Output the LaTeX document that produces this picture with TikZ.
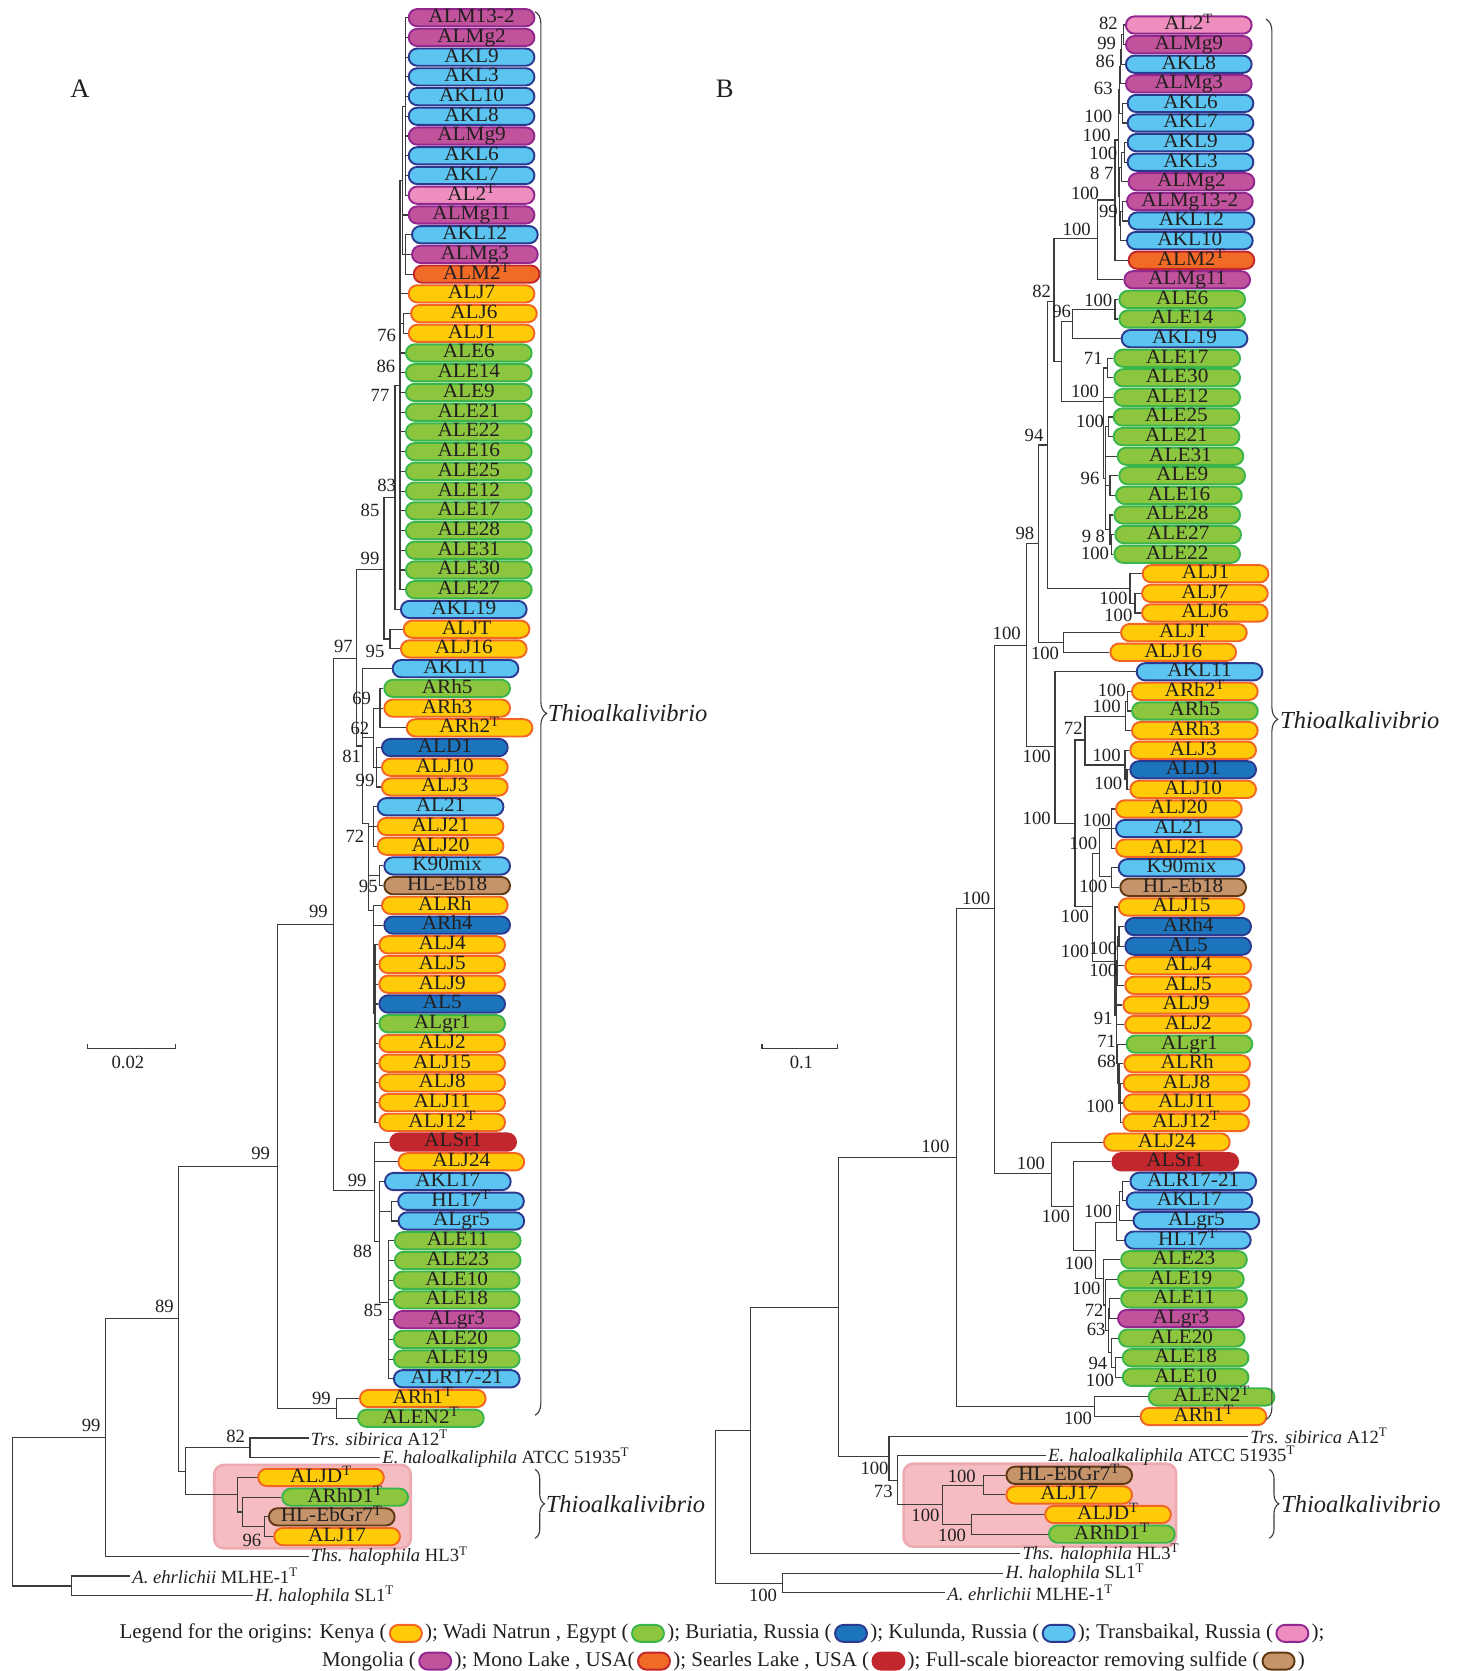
\documentclass[tikz,border=0pt]{standalone}
\usepackage{fontspec}
\setmainfont{Liberation Serif}
\newfontfamily\pillfam{Liberation Serif}[FakeStretch=1.05]
\usetikzlibrary{shapes.misc,decorations.pathreplacing}
\definecolor{keF}{HTML}{FFCB08}\definecolor{keD}{HTML}{F26522}
\definecolor{egF}{HTML}{8CC63F}\definecolor{egD}{HTML}{39B54A}
\definecolor{buF}{HTML}{1C75BC}\definecolor{buD}{HTML}{2B3990}
\definecolor{kuF}{HTML}{5BC4F0}\definecolor{kuD}{HTML}{2B3990}
\definecolor{trF}{HTML}{EE8EBE}\definecolor{trD}{HTML}{92278F}
\definecolor{moF}{HTML}{C1529C}\definecolor{moD}{HTML}{92278F}
\definecolor{mlF}{HTML}{F26B26}\definecolor{mlD}{HTML}{C1272D}
\definecolor{slF}{HTML}{C1272D}\definecolor{slD}{HTML}{C1272D}
\definecolor{bioF}{HTML}{C6946A}\definecolor{bioD}{HTML}{603913}
\definecolor{pinkbox}{HTML}{F5BDC1}\definecolor{pinkedge}{HTML}{EDAAB0}
\definecolor{treeln}{HTML}{3C3C3C}\definecolor{txt}{HTML}{231F20}
\newcommand\mypillf{\pillfam\fontsize{19}{19}\selectfont}
\newcommand\mybsf{\fontsize{17.5}{17.5}\selectfont}
\newcommand\myspf{\fontsize{17.5}{17.5}\selectfont}
\newcommand\mylegf{\fontsize{19.7}{19.7}\selectfont}
\newcommand\mygenf{\fontsize{23}{23}\selectfont\itshape}
\newcommand\supT{\textsuperscript{T}}
\newcommand\tipA[4]{\node[#2,anchor=west] (A#1) at (#3,{16.6+18.51*#1}) {#4};}
\newcommand\tipB[4]{\node[#2,anchor=west] (B#1) at (#3,{23.5+18.39*#1}) {#4};}
\newcommand\tedge[2]{\foreach \chld in {#2}{\draw[brl] (#1) |- (\chld);}}
\newcommand\bslab[3]{\node[bsl] (#1) at (#2) {#3};}
\begin{document}
\begin{tikzpicture}[x=1pt,y=-1pt,
 brl/.style={draw=treeln,line width=1.05pt},
 pill/.style={rounded rectangle,line width=1.8pt,minimum width=118pt,minimum height=16.2pt,inner sep=0pt,text height=12.5pt,text depth=3.3pt,font=\mypillf,text=txt},
 keP/.style={pill,fill=keF,draw=keD}, egP/.style={pill,fill=egF,draw=egD},
 buP/.style={pill,fill=buF,draw=buD}, kuP/.style={pill,fill=kuF,draw=kuD},
 trP/.style={pill,fill=trF,draw=trD}, moP/.style={pill,fill=moF,draw=moD},
 mlP/.style={pill,fill=mlF,draw=mlD}, slP/.style={pill,fill=slF,draw=slD},
 bioP/.style={pill,fill=bioF,draw=bioD},
 sptxt/.style={font=\myspf,inner xsep=2pt,inner ysep=0pt,text=txt},
 bsl/.style={font=\mybsf,inner sep=0pt,text=txt},
 genl/.style={font=\mygenf,inner sep=1pt,text=txt},
 legt/.style={font=\mylegf,inner xsep=2pt,inner ysep=0pt,text=txt},
 legi/.style={rounded rectangle,line width=1.8pt,minimum width=30pt,minimum height=16pt,inner sep=0pt}]
\useasboundingbox (0,0) rectangle (1370,1568);
% pink boxes
\draw[fill=pinkbox,draw=pinkedge,line width=2.5pt,rounded corners=9pt] (201,1374.6) rectangle (385.4,1452.8);
\draw[fill=pinkbox,draw=pinkedge,line width=2.5pt,rounded corners=9pt] (847.9,1373.5) rectangle (1103.5,1451.3);
% panel labels
\node[font=\fontsize{25}{25}\selectfont,text=txt] (pA) at (75,83) {A};
\node[font=\fontsize{25}{25}\selectfont,text=txt] (pB) at (680,83) {B};
%================ TREE A tips
\tipA{0}{moP}{382.6}{ALM13-2}
\tipA{1}{moP}{382.6}{ALMg2}
\tipA{2}{kuP}{382.6}{AKL9}
\tipA{3}{kuP}{382.6}{AKL3}
\tipA{4}{kuP}{382.6}{AKL10}
\tipA{5}{kuP}{382.6}{AKL8}
\tipA{6}{moP}{382.6}{ALMg9}
\tipA{7}{kuP}{382.6}{AKL6}
\tipA{8}{kuP}{382.6}{AKL7}
\tipA{9}{trP}{382.6}{AL2\supT}
\tipA{10}{moP}{382.6}{ALMg11}
\tipA{11}{kuP}{385.7}{AKL12}
\tipA{12}{moP}{385.7}{ALMg3}
\tipA{13}{mlP}{387.3}{ALM2\supT}
\tipA{14}{keP}{382.6}{ALJ7}
\tipA{15}{keP}{384.8}{ALJ6}
\tipA{16}{keP}{382.6}{ALJ1}
\tipA{17}{egP}{380}{ALE6}
\tipA{18}{egP}{380}{ALE14}
\tipA{19}{egP}{380}{ALE9}
\tipA{20}{egP}{380}{ALE21}
\tipA{21}{egP}{380}{ALE22}
\tipA{22}{egP}{380}{ALE16}
\tipA{23}{egP}{380}{ALE25}
\tipA{24}{egP}{380}{ALE12}
\tipA{25}{egP}{380}{ALE17}
\tipA{26}{egP}{380}{ALE28}
\tipA{27}{egP}{380}{ALE31}
\tipA{28}{egP}{380}{ALE30}
\tipA{29}{egP}{380}{ALE27}
\tipA{30}{kuP}{375.3}{AKL19}
\tipA{31}{keP}{377.9}{ALJT}
\tipA{32}{keP}{375.3}{ALJ16}
\tipA{33}{kuP}{367.5}{AKL11}
\tipA{34}{egP}{359.7}{ARh5}
\tipA{35}{keP}{359.7}{ARh3}
\tipA{36}{keP}{380.7}{ARh2\supT}
\tipA{37}{buP}{357.5}{ALD1}
\tipA{38}{keP}{357.5}{ALJ10}
\tipA{39}{keP}{357.5}{ALJ3}
\tipA{40}{kuP}{353.5}{AL21}
\tipA{41}{keP}{353.5}{ALJ21}
\tipA{42}{keP}{353.5}{ALJ20}
\tipA{43}{kuP}{359.7}{K90mix}
\tipA{44}{bioP}{359.7}{HL-Eb18}
\tipA{45}{keP}{357.5}{ALRh}
\tipA{46}{buP}{359.7}{ARh4}
\tipA{47}{keP}{355}{ALJ4}
\tipA{48}{keP}{355}{ALJ5}
\tipA{49}{keP}{355}{ALJ9}
\tipA{50}{buP}{355}{AL5}
\tipA{51}{egP}{355}{ALgr1}
\tipA{52}{keP}{355}{ALJ2}
\tipA{53}{keP}{355}{ALJ15}
\tipA{54}{keP}{355}{ALJ8}
\tipA{55}{keP}{355}{ALJ11}
\tipA{56}{keP}{355}{ALJ12\supT}
\tipA{57}{slP}{365.3}{ALSr1}
\tipA{58}{keP}{373}{ALJ24}
\tipA{59}{kuP}{360.3}{AKL17}
\tipA{60}{kuP}{372.7}{HL17\supT}
\tipA{61}{kuP}{373}{ALgr5}
\tipA{62}{egP}{369.6}{ALE11}
\tipA{63}{egP}{369.6}{ALE23}
\tipA{64}{egP}{368.7}{ALE10}
\tipA{65}{egP}{368.7}{ALE18}
\tipA{66}{moP}{368.7}{ALgr3}
\tipA{67}{egP}{368.7}{ALE20}
\tipA{68}{egP}{368.7}{ALE19}
\tipA{69}{kuP}{368.7}{ALR17-21}
\tipA{70}{keP}{336.8}{ARh1\supT}
\tipA{71}{egP}{335}{ALEN2\supT}
\tipA{72}{sptxt}{289.6}{\textit{Trs. sibirica} A12\supT}
\tipA{73}{sptxt}{356.6}{\textit{E. haloalkaliphila} ATCC 51935\supT}
\tipA{74}{keP}{241.3}{ALJD\supT}
\tipA{75}{egP}{264}{ARhD1\supT}
\tipA{76}{bioP}{251.4}{HL-EbGr7\supT}
\tipA{77}{keP}{256.4}{ALJ17}
\tipA{78}{sptxt}{289.6}{\textit{Ths. halophila} HL3\supT}
\tipA{79}{sptxt}{122}{\textit{A. ehrlichii} MLHE-1\supT}
\tipA{80}{sptxt}{237.5}{\textit{H. halophila} SL1\supT}
% A internal nodes
\coordinate (aT0) at (380.5,99.9);
\coordinate (aT1) at (380.5,238.7);
\coordinate (aT2) at (377.8,169.3);
\coordinate (aJ61) at (379,303.5);
\coordinate (aUp) at (375.3,361.4);
\coordinate (aK19) at (370.7,466.7);
\coordinate (a95) at (366,599.6);
\coordinate (a85) at (360.3,534.2);
\coordinate (a69) at (356.6,664.5);
\coordinate (a99b) at (353.5,720);
\coordinate (a62) at (350.3,692.3);
\coordinate (aAL21) at (350.3,775.5);
\coordinate (a95b) at (356,821.8);
\coordinate (aBlk) at (351.9,951);
\coordinate (aGrey) at (350.3,854);
\coordinate (a72) at (345.6,772.6);
\coordinate (a81) at (340,700);
\coordinate (a97) at (334.7,617.7);
\coordinate (aHL) at (367.6,1136.5);
\coordinate (a85b) at (364.6,1222);
\coordinate (a88) at (355.9,1165);
\coordinate (a99c) at (351.2,1117.3);
\coordinate (a312) at (312.8,867.3);
\coordinate (aRh1) at (315.7,1321.5);
\coordinate (a260) at (260.7,1094.4);
\coordinate (a82) at (234.6,1358.5);
\coordinate (aZ) at (248,1432.6);
\coordinate (aY) at (227.9,1418.8);
\coordinate (aX) at (222.9,1402.5);
\coordinate (a174) at (174.3,1380.5);
\coordinate (a167) at (167.6,1237.6);
\coordinate (a99r) at (98.9,1349);
\coordinate (aAH) at (67,1488.2);
\coordinate (aRoot) at (11.7,1418.6);
% A edges
\foreach \i in {0,...,9} {\draw[brl] (aT0) |- (A\i.west);}
\tedge{aT1}{A11.west,A12.west,A13.west}
\tedge{aT2}{aT0,A10.west,aT1}
\tedge{aJ61}{A15.west,A16.west}
\tedge{aUp}{aT2,A14.west,aJ61}
\foreach \i in {17,...,29} {\draw[brl] (aUp) |- (A\i.west);}
\tedge{aK19}{aUp,A30.west}
\tedge{a95}{A31.west,A32.west}
\tedge{a85}{aK19,a95}
\tedge{a69}{A34.west,A35.west,A36.west}
\tedge{a99b}{A37.west,A38.west,A39.west}
\tedge{a62}{a69,a99b}
\tedge{aAL21}{A40.west,A41.west,A42.west}
\tedge{a95b}{A43.west,A44.west}
\foreach \i in {47,...,56} {\draw[brl] (aBlk) |- (A\i.west);}
\tedge{aGrey}{A45.west,A46.west,aBlk}
\tedge{a72}{aAL21,a95b,aGrey}
\tedge{a81}{A33.west,a62,a72}
\tedge{a97}{a85,a81}
\tedge{aHL}{A60.west,A61.west}
\foreach \i in {62,...,69} {\draw[brl] (a85b) |- (A\i.west);}
\tedge{a88}{A59.west,aHL,a85b}
\tedge{a99c}{A57.west,A58.west,a88}
\tedge{a312}{a97,a99c}
\tedge{aRh1}{A70.west,A71.west}
\tedge{a260}{a312,aRh1}
\tedge{a82}{A72.west,A73.west}
\tedge{aZ}{A76.west,A77.west}
\tedge{aY}{A75.west,aZ}
\tedge{aX}{A74.west,aY}
\tedge{a174}{a82,aX}
\tedge{a167}{a260,a174}
\tedge{a99r}{a167,A78.west}
\tedge{aAH}{A79.west,A80.west}
\tedge{aRoot}{a99r,aAH}
% A bootstrap labels
\bslab{la1}{362.8,314.3}{76}
\bslab{la2}{362.2,344}{86}
\bslab{la3}{356.6,370.7}{77}
\bslab{la4}{362.8,455.1}{83}
\bslab{la5}{347.2,478.6}{85}
\bslab{la6}{347.2,523.9}{99}
\bslab{la7}{351.9,611.5}{95}
\bslab{la8}{322.2,606.8}{97}
\bslab{la9}{339.4,655}{69}
\bslab{la10}{337.8,683.4}{62}
\bslab{la11}{330,710}{81}
\bslab{la12}{342.5,732}{99}
\bslab{la13}{333.1,785.1}{72}
\bslab{la14}{345.6,832}{95}
\bslab{la15}{298.7,855.5}{99}
\bslab{la16}{244.6,1082.2}{99}
\bslab{la17}{335.1,1107.3}{99}
\bslab{la18}{340.2,1174.5}{88}
\bslab{la19}{350.2,1229.2}{85}
\bslab{la20}{154.2,1226.1}{89}
\bslab{la21}{301.6,1312.1}{99}
\bslab{la22}{221.2,1348.1}{82}
\bslab{la23}{85.5,1337.2}{99}
\bslab{la24}{236.3,1445.1}{96}
%================ TREE B tips
\tipB{0}{trP}{1055.6}{AL2\supT}
\tipB{1}{moP}{1055.6}{ALMg9}
\tipB{2}{kuP}{1055.6}{AKL8}
\tipB{3}{moP}{1055.6}{ALMg3}
\tipB{4}{kuP}{1057.2}{AKL6}
\tipB{5}{kuP}{1057.2}{AKL7}
\tipB{6}{kuP}{1057.2}{AKL9}
\tipB{7}{kuP}{1057.2}{AKL3}
\tipB{8}{moP}{1058.1}{ALMg2}
\tipB{9}{moP}{1056.6}{ALMg13-2}
\tipB{10}{kuP}{1058.1}{AKL12}
\tipB{11}{kuP}{1056.6}{AKL10}
\tipB{12}{mlP}{1058.1}{ALM2\supT}
\tipB{13}{moP}{1054.1}{ALMg11}
\tipB{14}{egP}{1049.4}{ALE6}
\tipB{15}{egP}{1049.4}{ALE14}
\tipB{16}{kuP}{1051.6}{AKL19}
\tipB{17}{egP}{1044.7}{ALE17}
\tipB{18}{egP}{1044.7}{ALE30}
\tipB{19}{egP}{1044.7}{ALE12}
\tipB{20}{egP}{1044.1}{ALE25}
\tipB{21}{egP}{1044.1}{ALE21}
\tipB{22}{egP}{1047.8}{ALE31}
\tipB{23}{egP}{1049.4}{ALE9}
\tipB{24}{egP}{1046.3}{ALE16}
\tipB{25}{egP}{1044.7}{ALE28}
\tipB{26}{egP}{1045.6}{ALE27}
\tipB{27}{egP}{1044.7}{ALE22}
\tipB{28}{keP}{1071.3}{ALJ1}
\tipB{29}{keP}{1070.7}{ALJ7}
\tipB{30}{keP}{1070.7}{ALJ6}
\tipB{31}{keP}{1051}{ALJT}
\tipB{32}{keP}{1041}{ALJ16}
\tipB{33}{kuP}{1065.7}{AKL11}
\tipB{34}{keP}{1061.3}{ARh2\supT}
\tipB{35}{egP}{1061.3}{ARh5}
\tipB{36}{keP}{1061.3}{ARh3}
\tipB{37}{keP}{1059.7}{ALJ3}
\tipB{38}{buP}{1059.7}{ALD1}
\tipB{39}{keP}{1059.7}{ALJ10}
\tipB{40}{keP}{1046.3}{ALJ20}
\tipB{41}{kuP}{1046.3}{AL21}
\tipB{42}{keP}{1046.3}{ALJ21}
\tipB{43}{kuP}{1048.8}{K90mix}
\tipB{44}{bioP}{1050.3}{HL-Eb18}
\tipB{45}{keP}{1048.8}{ALJ15}
\tipB{46}{buP}{1055}{ARh4}
\tipB{47}{buP}{1055}{AL5}
\tipB{48}{keP}{1055}{ALJ4}
\tipB{49}{keP}{1055}{ALJ5}
\tipB{50}{keP}{1053.2}{ALJ9}
\tipB{51}{keP}{1055}{ALJ2}
\tipB{52}{egP}{1056.2}{ALgr1}
\tipB{53}{keP}{1054.1}{ALRh}
\tipB{54}{keP}{1053.5}{ALJ8}
\tipB{55}{keP}{1053.5}{ALJ11}
\tipB{56}{keP}{1053}{ALJ12\supT}
\tipB{57}{keP}{1035}{ALJ24}
\tipB{58}{slP}{1042.9}{ALSr1}
\tipB{59}{kuP}{1059.8}{ALR17-21}
\tipB{60}{kuP}{1056.2}{AKL17}
\tipB{61}{kuP}{1062.7}{ALgr5}
\tipB{62}{kuP}{1054.7}{HL17\supT}
\tipB{63}{egP}{1051.1}{ALE23}
\tipB{64}{egP}{1048.2}{ALE19}
\tipB{65}{egP}{1051.1}{ALE11}
\tipB{66}{moP}{1048.2}{ALgr3}
\tipB{67}{egP}{1049}{ALE20}
\tipB{68}{egP}{1052.6}{ALE18}
\tipB{69}{egP}{1052.6}{ALE10}
\tipB{70}{egP}{1077}{ALEN2\supT}
\tipB{71}{keP}{1069.4}{ARh1\supT}
\tipB{72}{sptxt}{1171.1}{\textit{Trs. sibirica} A12\supT}
\tipB{73}{sptxt}{981.4}{\textit{E. haloalkaliphila} ATCC 51935\supT}
\tipB{74}{bioP}{943.4}{HL-EbGr7\supT}
\tipB{75}{keP}{943.4}{ALJ17}
\tipB{76}{keP}{979.8}{ALJD\supT}
\tipB{77}{egP}{983.4}{ARhD1\supT}
\tipB{78}{sptxt}{957.3}{\textit{Ths. halophila} HL3\supT}
\tipB{79}{sptxt}{941.4}{\textit{H. halophila} SL1\supT}
\tipB{80}{sptxt}{886.8}{\textit{A. ehrlichii} MLHE-1\supT}
% B internal nodes
\coordinate (bRoot) at (671.4,1414);
\coordinate (bHA) at (734.2,1485.5);
\coordinate (b704) at (704.6,1341.9);
\coordinate (b786) at (786.4,1227);
\coordinate (b834) at (834.2,1367);
\coordinate (b842) at (842.5,1389);
\coordinate (bPk) at (884.3,1412);
\coordinate (bHLJ) at (923,1393.6);
\coordinate (bJDR) at (911.5,1430.3);
\coordinate (b897) at (897.4,1086.3);
\coordinate (bEN) at (1026.7,1320);
\coordinate (b933) at (933.4,852.6);
\coordinate (b986) at (986.5,1101);
\coordinate (b1007) at (1007,1132.3);
\coordinate (b1028) at (1027.8,1173.4);
\coordinate (bHL17) at (1047.6,1147.3);
\coordinate (bALgr) at (1050.7,1131.5);
\coordinate (bALR) at (1053,1117.7);
\coordinate (bG) at (1035.7,1199.5);
\coordinate (bG2) at (1037.5,1224.6);
\coordinate (bG3) at (1040,1248.7);
\coordinate (bG4) at (1041.5,1228);
\coordinate (bG5) at (1043,1269.4);
\coordinate (bG6) at (1046.5,1283.2);
\coordinate (b963) at (963.4,605.9);
\coordinate (b974) at (974.3,509.8);
\coordinate (bJT) at (997.8,602.8);
\coordinate (b983) at (982.8,417.6);
\coordinate (bJ) at (1060.3,552);
\coordinate (bJ76) at (1065,566);
\coordinate (b989) at (989,283.1);
\coordinate (b996) at (996.2,339.4);
\coordinate (b1006) at (1006.5,301.9);
\coordinate (bE614) at (1046.3,290.2);
\coordinate (bEa) at (1035.3,376.9);
\coordinate (bE17) at (1039,345.3);
\coordinate (bEb) at (1037,448.8);
\coordinate (bE2521) at (1040,400.5);
\coordinate (bE916) at (1041.6,455.7);
\coordinate (bE2822) at (1041.6,497);
\coordinate (bE2722) at (1043.2,510.8);
\coordinate (bMg11) at (1029.7,223.6);
\coordinate (bM2) at (1046.3,187.7);
\coordinate (bA9) at (1049.4,131.4);
\coordinate (bA4) at (1050.5,84.5);
\coordinate (bA3) at (1051.5,62.6);
\coordinate (bA2) at (1052.5,46.5);
\coordinate (bA1) at (1054,32.7);
\coordinate (bA67) at (1053,106.3);
\coordinate (bA8) at (1050.5,184.4);
\coordinate (bA5) at (1052,156.8);
\coordinate (bA93) at (1055.5,143);
\coordinate (bA7) at (1051.5,212);
\coordinate (bA6) at (1053,198.2);
\coordinate (b990) at (990,700.6);
\coordinate (b1008) at (1008.7,772.6);
\coordinate (b1018) at (1018.1,694.4);
\coordinate (bRh) at (1056.2,672.5);
\coordinate (bRh25) at (1058,658);
\coordinate (bJ3) at (1055.6,717.8);
\coordinate (bD110) at (1057.5,731.5);
\coordinate (b1025) at (1025.3,850.8);
\coordinate (b1031) at (1031.6,800.7);
\coordinate (b2021) at (1043.1,777.3);
\coordinate (bK90) at (1043.1,822.6);
\coordinate (bL) at (1046.3,902.4);
\coordinate (bR) at (1047.3,952.4);
\coordinate (bRA2) at (1048.5,901.6);
\coordinate (bRA) at (1050,878.6);
\coordinate (b91) at (1048,979.8);
\coordinate (b71) at (1049,998.2);
\coordinate (b68) at (1050,1016.6);
\coordinate (bJ811) at (1051.5,1035);
% B edges
\tedge{bRoot}{b704,bHA}
\tedge{bHA}{B79.west,B80.west}
\tedge{b704}{b786,B78.west}
\tedge{b786}{b897,b834}
\tedge{b834}{B72.west,b842}
\tedge{b842}{B73.west,bPk}
\tedge{bPk}{bHLJ,bJDR}
\tedge{bHLJ}{B74.west,B75.west}
\tedge{bJDR}{B76.west,B77.west}
\tedge{b897}{b933,bEN}
\tedge{bEN}{B70.west,B71.west}
\tedge{b933}{b963,b986}
\tedge{b986}{B57.west,b1007}
\tedge{b1007}{B58.west,b1028}
\tedge{b1028}{bHL17,bG}
\tedge{bHL17}{bALgr,B62.west}
\tedge{bALgr}{bALR,B61.west}
\tedge{bALR}{B59.west,B60.west}
\tedge{bG}{B63.west,bG2}
\tedge{bG2}{B64.west,bG3}
\tedge{bG3}{bG4,bG5}
\tedge{bG4}{B65.west,B66.west}
\tedge{bG5}{B67.west,bG6}
\tedge{bG6}{B68.west,B69.west}
\tedge{b963}{b974,b990}
\tedge{b974}{b983,bJT}
\tedge{bJT}{B31.west,B32.west}
\tedge{b983}{b989,bJ}
\tedge{bJ}{B28.west,bJ76}
\tedge{bJ76}{B29.west,B30.west}
\tedge{b989}{bMg11,b996}
\tedge{b996}{b1006,bEa}
\tedge{b1006}{bE614,B16.west}
\tedge{bE614}{B14.west,B15.west}
\tedge{bEa}{bE17,B19.west,bEb}
\tedge{bE17}{B17.west,B18.west}
\tedge{bEb}{bE2521,B22.west,bE916,bE2822}
\tedge{bE2521}{B20.west,B21.west}
\tedge{bE916}{B23.west,B24.west}
\tedge{bE2822}{B25.west,bE2722}
\tedge{bE2722}{B26.west,B27.west}
\tedge{bMg11}{bM2,B13.west}
\tedge{bM2}{bA9,B12.west}
\tedge{bA9}{bA4,bA8}
\tedge{bA4}{bA3,bA67}
\tedge{bA3}{bA2,B3.west}
\tedge{bA2}{bA1,B2.west}
\tedge{bA1}{B0.west,B1.west}
\tedge{bA67}{B4.west,B5.west}
\tedge{bA8}{bA5,bA7}
\tedge{bA5}{bA93,B8.west}
\tedge{bA93}{B6.west,B7.west}
\tedge{bA7}{bA6,B11.west}
\tedge{bA6}{B9.west,B10.west}
\tedge{b990}{B33.west,b1008}
\tedge{b1008}{b1018,b1025}
\tedge{b1018}{bRh,bJ3}
\tedge{bRh}{bRh25,B36.west}
\tedge{bRh25}{B34.west,B35.west}
\tedge{bJ3}{B37.west,bD110}
\tedge{bD110}{B38.west,B39.west}
\tedge{b1025}{b1031,bL}
\tedge{b1031}{b2021,bK90}
\tedge{b2021}{B40.west,B41.west,B42.west}
\tedge{bK90}{B43.west,B44.west}
\tedge{bL}{B45.west,bR}
\tedge{bR}{bRA2,B50.west,b91}
\tedge{bRA2}{bRA,B48.west,B49.west}
\tedge{bRA}{B46.west,B47.west}
\tedge{b91}{B51.west,b71}
\tedge{b71}{B52.west,b68}
\tedge{b68}{B53.west,bJ811}
\tedge{bJ811}{B54.west,B55.west,B56.west}
% B bootstrap labels
\bslab{lb1}{1040,21.9}{82}
\bslab{lb2}{1038.4,40.7}{99}
\bslab{lb3}{1036.9,57.9}{86}
\bslab{lb4}{1035.3,82.9}{63}
\bslab{lb5}{1030.6,109.5}{100}
\bslab{lb6}{1029.1,126.7}{100}
\bslab{lb7}{1035.3,143.9}{100}
\bslab{lb8}{1033.8,162.6}{8 7}
\bslab{lb9}{1018.1,181.4}{100}
\bslab{lb10}{1040,198.6}{99}
\bslab{lb11}{1010.3,215.2}{100}
\bslab{lb12}{977.5,273.7}{82}
\bslab{lb13}{1030.6,281.5}{100}
\bslab{lb14}{996.2,292.5}{96}
\bslab{lb15}{1025.9,336.2}{71}
\bslab{lb16}{1018.1,367.5}{100}
\bslab{lb17}{1022.8,395.7}{100}
\bslab{lb18}{1022.8,448.8}{96}
\bslab{lb19}{1026,503.6}{9 8}
\bslab{lb20}{1027.5,519.2}{100}
\bslab{lb21}{970.3,408.2}{94}
\bslab{lb22}{961.8,500.4}{98}
\bslab{lb23}{1044.7,561.4}{100}
\bslab{lb24}{1049.4,577}{100}
\bslab{lb25}{944.6,594.3}{100}
\bslab{lb26}{980.6,613}{100}
\bslab{lb27}{1043.2,647.5}{100}
\bslab{lb28}{1038.4,663.1}{100}
\bslab{lb29}{1007.1,683.4}{72}
\bslab{lb30}{972.8,710}{100}
\bslab{lb31}{1038.4,708.5}{100}
\bslab{lb32}{1040,735}{100}
\bslab{lb33}{972.8,767.9}{100}
\bslab{lb34}{1029.1,769.5}{100}
\bslab{lb35}{1016.5,791.4}{100}
\bslab{lb36}{1025.9,832}{100}
\bslab{lb37}{1008.7,860.2}{100}
\bslab{lb38}{1035.3,889.9}{100}
\bslab{lb39}{1008.7,893}{100}
\bslab{lb40}{1035.3,910.2}{100}
\bslab{lb41}{1035.3,955.5}{91}
\bslab{lb42}{1038.4,977.5}{71}
\bslab{lb43}{1038.4,996.2}{68}
\bslab{lb44}{1032.2,1038.5}{100}
\bslab{lb45}{916,843}{100}
\bslab{lb46}{877.7,1076}{100}
\bslab{lb47}{967.4,1091.6}{100}
\bslab{lb48}{990.8,1141.7}{100}
\bslab{lb49}{1030.3,1137}{100}
\bslab{lb50}{1012.4,1185.4}{100}
\bslab{lb51}{1019.5,1208.9}{100}
\bslab{lb52}{1026.7,1229.2}{72}
\bslab{lb53}{1028.5,1247}{63}
\bslab{lb54}{1030.3,1279.3}{94}
\bslab{lb55}{1032.1,1295}{100}
\bslab{lb56}{1011.6,1330.9}{100}
\bslab{lb57}{820.6,1377.8}{100}
\bslab{lb58}{828.8,1399.7}{73}
\bslab{lb59}{902.5,1385}{100}
\bslab{lb60}{868.4,1421.6}{100}
\bslab{lb61}{893.3,1440.4}{100}
\bslab{lb62}{716,1496.7}{100}
% braces and genus labels
\coordinate (brA1) at (502,11); \coordinate (brA2) at (502,1328);
\coordinate (brA3) at (502,1378.8); \coordinate (brA4) at (502,1443.5);
\coordinate (brB1) at (1188,18); \coordinate (brB2) at (1188,1332);
\coordinate (brB3) at (1191,1378.8); \coordinate (brB4) at (1191,1443.5);
\draw[brl,decorate,decoration={brace,amplitude=11pt}] (brA1) -- (brA2);
\draw[brl,decorate,decoration={brace,amplitude=9pt}] (brA3) -- (brA4);
\draw[brl,decorate,decoration={brace,amplitude=11pt}] (brB1) -- (brB2);
\draw[brl,decorate,decoration={brace,amplitude=9pt}] (brB3) -- (brB4);
\node[genl,anchor=west] (gA1) at (513,669) {Thioalkalivibrio};
\node[genl,anchor=west] (gA2) at (511,1411) {Thioalkalivibrio};
\node[genl,anchor=west] (gB1) at (1200,676) {Thioalkalivibrio};
\node[genl,anchor=west] (gB2) at (1201,1411) {Thioalkalivibrio};
% scale bars
\coordinate (sA1) at (82,984); \coordinate (sA2) at (165,984);
\coordinate (sB1) at (715,984); \coordinate (sB2) at (786,984);
\draw[brl] ([yshift=4pt]sA1) -- (sA1) -- (sA2) -- ([yshift=4pt]sA2);
\draw[brl] ([yshift=4pt]sB1) -- (sB1) -- (sB2) -- ([yshift=4pt]sB2);
\node[bsl] (sAl) at (120,997) {0.02};
\node[bsl] (sBl) at (752,997) {0.1};
% legend
\node[legt,anchor=base west] (L1) at (110,1537.5) {Legend for the origins: Kenya (};
\node[legi,fill=keF,draw=keD,anchor=west] (I1) at ([yshift=4.8pt]L1.base east) {};
\node[legt,anchor=base west] (L2) at (I1.east |- L1.base) {); Wadi Natrun , Egypt (};
\node[legi,fill=egF,draw=egD,anchor=west] (I2) at ([yshift=4.8pt]L2.base east) {};
\node[legt,anchor=base west] (L3) at (I2.east |- L1.base) {); Buriatia, Russia (};
\node[legi,fill=buF,draw=buD,anchor=west] (I3) at ([yshift=4.8pt]L3.base east) {};
\node[legt,anchor=base west] (L4) at (I3.east |- L1.base) {); Kulunda, Russia (};
\node[legi,fill=kuF,draw=kuD,anchor=west] (I4) at ([yshift=4.8pt]L4.base east) {};
\node[legt,anchor=base west] (L5) at (I4.east |- L1.base) {); Transbaikal, Russia (};
\node[legi,fill=trF,draw=trD,anchor=west] (I5) at ([yshift=4.8pt]L5.base east) {};
\node[legt,anchor=base west] (L6) at (I5.east |- L1.base) {);};
\node[legt,anchor=base west] (M1) at (300,1563.5) {Mongolia (};
\node[legi,fill=moF,draw=moD,anchor=west] (J1) at ([yshift=4.8pt]M1.base east) {};
\node[legt,anchor=base west] (M2) at (J1.east |- M1.base) {); Mono Lake , USA(};
\node[legi,fill=mlF,draw=mlD,anchor=west] (J2) at ([yshift=4.8pt]M2.base east) {};
\node[legt,anchor=base west] (M3) at (J2.east |- M1.base) {); Searles Lake , USA (};
\node[legi,fill=slF,draw=slD,anchor=west] (J3) at ([yshift=4.8pt]M3.base east) {};
\node[legt,anchor=base west] (M4) at (J3.east |- M1.base) {); Full-scale bioreactor removing sulfide (};
\node[legi,fill=bioF,draw=bioD,anchor=west] (J4) at ([yshift=4.8pt]M4.base east) {};
\node[legt,anchor=base west] (M5) at (J4.east |- M1.base) {)};
\end{tikzpicture}
\end{document}
